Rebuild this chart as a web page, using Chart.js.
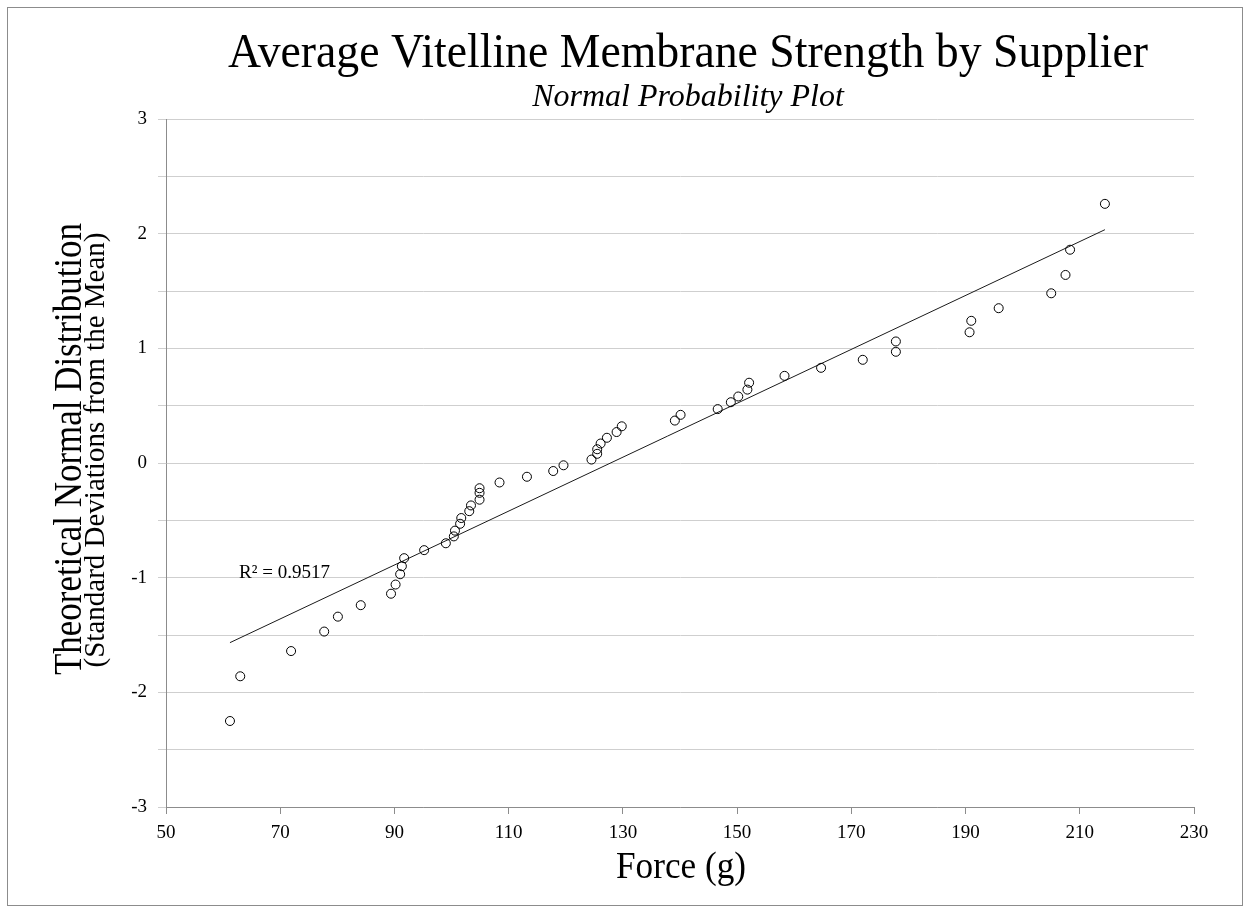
<!DOCTYPE html>
<html>
<head>
<meta charset="utf-8">
<title>Average Vitelline Membrane Strength by Supplier</title>
<script src="https://cdn.jsdelivr.net/npm/chart.js@4"></script>
<style>
  html, body { margin: 0; padding: 0; background: #fff; }
  #plot { display: block; }
</style>
</head>
<body>
<canvas id="plot" width="1250" height="913"></canvas>
<script>
// force readings (g), sorted
const forceValues = [
  61.2, 63.0, 71.9, 77.7, 80.1, 84.1, 89.4, 90.2, 91.0, 91.3,
  91.7, 95.2, 99.0, 100.4, 100.6, 101.5, 101.7, 103.1, 103.4, 104.9,
  104.9, 104.9, 108.4, 113.2, 117.8, 119.6, 124.5, 125.5, 125.5, 126.1,
  127.2, 128.9, 129.8, 139.1, 140.1, 146.6, 148.9, 150.2, 151.8, 152.1,
  158.3, 164.7, 172.0, 177.8, 177.8, 190.7, 191.0, 195.8, 205.0, 207.5,
  208.3, 214.4
];
// theoretical normal scores for each reading
const normalScores = [
  -2.25, -1.86, -1.64, -1.47, -1.34, -1.24, -1.14, -1.06, -0.97, -0.90,
  -0.83, -0.76, -0.70, -0.64, -0.59, -0.53, -0.48, -0.42, -0.37, -0.32,
  -0.26, -0.22, -0.17, -0.12, -0.07, -0.02, 0.03, 0.08, 0.12, 0.17,
  0.22, 0.27, 0.32, 0.37, 0.42, 0.47, 0.53, 0.58, 0.64, 0.70,
  0.76, 0.83, 0.90, 0.97, 1.06, 1.14, 1.24, 1.35, 1.48, 1.64,
  1.86, 2.26
];
const xTicks = [50, 70, 90, 110, 130, 150, 170, 190, 210, 230];
const yTicks = [-3, -2, -1, 0, 1, 2, 3];
const rSquaredText = 'R\u00B2 = 0.9517';

const serif = "'Liberation Serif', 'Times New Roman', serif";

// least squares fit for the trendline
function linearFit(xs, ys) {
  const n = xs.length;
  const mx = xs.reduce((a, b) => a + b, 0) / n;
  const my = ys.reduce((a, b) => a + b, 0) / n;
  let sxy = 0, sxx = 0;
  for (let i = 0; i < n; i++) {
    sxy += (xs[i] - mx) * (ys[i] - my);
    sxx += (xs[i] - mx) * (xs[i] - mx);
  }
  const slope = sxy / sxx;
  return { slope, intercept: my - slope * mx };
}

const fit = linearFit(forceValues, normalScores);
const xMin = Math.min(...forceValues);
const xMax = Math.max(...forceValues);
const trendPoints = [
  { x: xMin, y: fit.intercept + fit.slope * xMin },
  { x: xMax, y: fit.intercept + fit.slope * xMax }
];

const points = forceValues.map((f, i) => ({ x: f, y: normalScores[i] }));

// titles, axis captions, frame and R² label
const decorations = {
  id: 'decorations',
  afterDraw(chart) {
    const ctx = chart.ctx;
    const { x, y } = chart.scales;
    ctx.save();

    ctx.strokeStyle = '#8c8c8c';
    ctx.lineWidth = 1;
    ctx.strokeRect(7.5, 7.5, 1235, 898);

    ctx.fillStyle = '#000';
    ctx.textAlign = 'center';
    ctx.textBaseline = 'alphabetic';

    ctx.font = `48px ${serif}`;
    ctx.fillText('Average Vitelline Membrane Strength by Supplier', 688, 67, 920);

    ctx.font = `italic 32px ${serif}`;
    ctx.fillText('Normal Probability Plot', 688, 106, 323);

    ctx.font = `38px ${serif}`;
    ctx.fillText('Force (g)', 681, 878, 130);

    // rotated y-axis captions
    ctx.save();
    ctx.translate(81, 449);
    ctx.rotate(-Math.PI / 2);
    ctx.font = `40px ${serif}`;
    ctx.fillText('Theoretical Normal Distribution', 0, 0, 452);
    ctx.font = `29px ${serif}`;
    ctx.fillText('(Standard Deviations from the Mean)', -1, 23, 446);
    ctx.restore();

    ctx.font = `19px ${serif}`;
    ctx.textAlign = 'left';
    ctx.textBaseline = 'middle';
    ctx.fillText(rSquaredText, x.getPixelForValue(62.8), y.getPixelForValue(-0.96));

    ctx.restore();
  }
};

new Chart(document.getElementById('plot'), {
  type: 'scatter',
  data: {
    datasets: [
      {
        label: 'Force',
        data: points,
        pointStyle: 'circle',
        pointRadius: 4.5,
        pointHoverRadius: 4.5,
        pointBorderWidth: 1,
        borderColor: '#000',
        backgroundColor: 'rgba(0,0,0,0)'
      },
      {
        label: 'Linear fit',
        type: 'line',
        data: trendPoints,
        showLine: true,
        pointRadius: 0,
        borderColor: '#1a1a1a',
        borderWidth: 1
      }
    ]
  },
  options: {
    responsive: false,
    animation: false,
    layout: { padding: { left: 120, top: 119, right: 56, bottom: 66 } },
    plugins: {
      legend: { display: false },
      tooltip: { enabled: false }
    },
    scales: {
      x: {
        type: 'linear',
        min: 50,
        max: 230,
        afterBuildTicks: (axis) => { axis.ticks = xTicks.map(v => ({ value: v })); },
        afterFit: (axis) => { axis.height = 40; },
        ticks: { color: '#000', font: { family: serif, size: 19 }, padding: 8, maxRotation: 0 },
        grid: { drawOnChartArea: false, color: '#8c8c8c', tickLength: 7 },
        border: { color: '#8c8c8c' }
      },
      y: {
        min: -3,
        max: 3,
        afterFit: (axis) => { axis.width = 46; },
        ticks: {
          stepSize: 0.5,
          color: '#000',
          font: { family: serif, size: 19 },
          padding: 11,
          callback: (v) => yTicks.includes(v) ? String(v) : ''
        },
        grid: { color: '#cfcfcf', tickLength: 8 },
        border: { color: '#8c8c8c' }
      }
    }
  },
  plugins: [decorations]
});
</script>
</body>
</html>
